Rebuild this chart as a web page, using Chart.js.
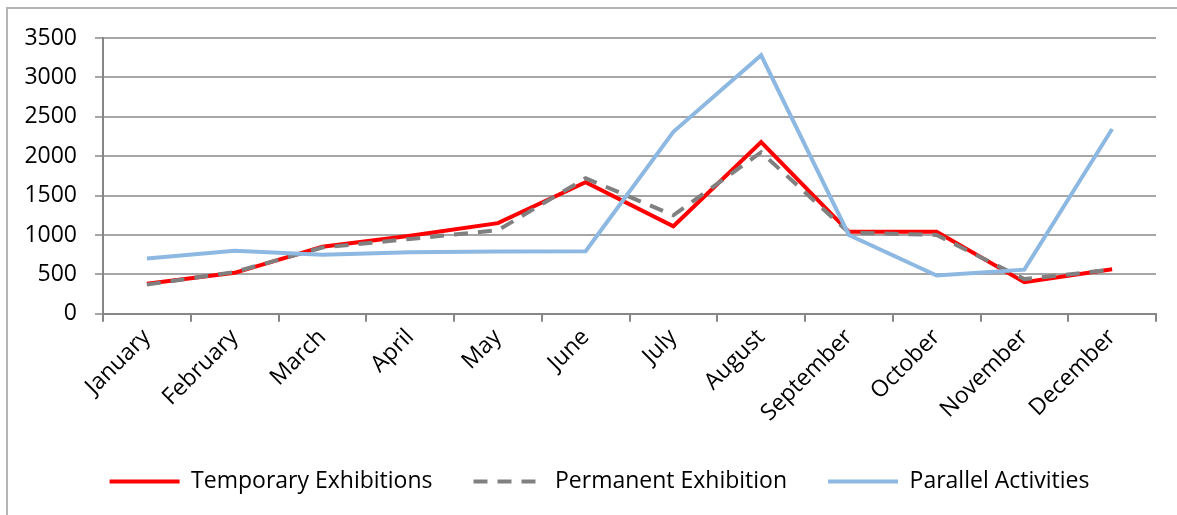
<!DOCTYPE html>
<html>
<head>
<meta charset="utf-8">
<script src="https://cdn.jsdelivr.net/npm/chart.js@4.4.0/dist/chart.umd.min.js"></script>
<style>
  html, body { margin: 0; padding: 0; background: #fff; overflow: hidden; }
  #wrap { position: relative; width: 1177px; height: 515px; }
  #frame { position: absolute; left: 6px; top: 7px; width: 1200px; height: 600px;
           border-left: 2px solid #b4b4b4; border-top: 2px solid #b4b4b4; }
  canvas { position: absolute; left: 0; top: 0; }
</style>
</head>
<body>
<div id="wrap">
  <div id="frame"></div>
  <canvas id="lineChart" width="1177" height="515"></canvas>
</div>
<script>
var months = ['January', 'February', 'March', 'April', 'May', 'June', 'July',
              'August', 'September', 'October', 'November', 'December'];
var temporaryExhibitions = [380, 520, 850, 990, 1150, 1670, 1110, 2180, 1040, 1040, 400, 565];
var permanentExhibition = [370, 530, 840, 950, 1060, 1720, 1250, 2050, 1030, 1000, 440, 560];
var parallelActivities = [700, 800, 750, 780, 790, 795, 2310, 3280, 1000, 485, 560, 2345];
var yTicks = [0, 500, 1000, 1500, 2000, 2500, 3000, 3500];

var fontFamily = '"Open Sans", Lato, sans-serif';
var fontSize = 23;

// nudge the legend row a little to the right, like the original
var legendShift = {
  id: 'legendShift',
  afterLayout: function(chart) {
    if (chart.legend) {
      chart.legend.left += 11;
      chart.legend.right += 11;
    }
  }
};

var ctx = document.getElementById('lineChart').getContext('2d');
new Chart(ctx, {
  type: 'line',
  data: {
    labels: months,
    datasets: [{
      label: 'Temporary Exhibitions',
      data: temporaryExhibitions,
      borderColor: '#ff0000',
      backgroundColor: '#ff0000',
      borderWidth: 4,
      order: 3
    }, {
      label: 'Permanent Exhibition',
      data: permanentExhibition,
      borderColor: '#808080',
      backgroundColor: '#808080',
      borderWidth: 4,
      borderDash: [14, 10],
      order: 2
    }, {
      label: 'Parallel Activities',
      data: parallelActivities,
      borderColor: '#8db8e2',
      backgroundColor: '#8db8e2',
      borderWidth: 4,
      order: 1
    }]
  },
  plugins: [legendShift],
  options: {
    responsive: false,
    animation: false,
    elements: {
      point: { radius: 0, hoverRadius: 0 },
      line: { tension: 0, borderJoinStyle: 'miter' }
    },
    layout: { padding: { top: 38, right: 21, left: 21, bottom: 12 } },
    plugins: {
      tooltip: { enabled: false },
      legend: {
        position: 'bottom',
        labels: {
          font: { family: fontFamily, size: fontSize },
          color: '#000',
          usePointStyle: true,
          pointStyle: 'line',
          pointStyleWidth: 70,
          padding: 41,
          sort: function(a, b) { return a.datasetIndex - b.datasetIndex; },
          generateLabels: function(chart) {
            return chart.data.datasets.map(function(ds, i) {
              return {
                text: ds.label,
                datasetIndex: i,
                fillStyle: ds.borderColor,
                strokeStyle: ds.borderColor,
                fontColor: '#000',
                lineWidth: 4,
                lineDash: ds.borderDash || [],
                lineCap: 'butt',
                pointStyle: 'line',
                hidden: false
              };
            });
          }
        }
      }
    },
    scales: {
      x: {
        offset: true,
        grid: {
          offset: true,
          drawOnChartArea: false,
          drawTicks: true,
          tickLength: 8,
          color: '#868686',
          lineWidth: 2
        },
        border: { color: '#868686', width: 2 },
        ticks: {
          font: { family: fontFamily, size: fontSize },
          color: '#000',
          maxRotation: 45,
          minRotation: 45,
          padding: 2,
          autoSkip: false
        }
      },
      y: {
        min: 0,
        max: 3500,
        afterBuildTicks: function(scale) {
          scale.ticks = yTicks.map(function(v) { return { value: v }; });
        },
        afterFit: function(scale) { scale.width = 82; },
        grid: {
          color: '#a6a6a6',
          lineWidth: 2,
          tickLength: 8
        },
        border: { color: '#868686', width: 2 },
        ticks: {
          font: { family: fontFamily, size: fontSize },
          color: '#000',
          padding: 18,
          callback: function(v) { return String(v); }
        }
      }
    }
  }
});
</script>
</body>
</html>
